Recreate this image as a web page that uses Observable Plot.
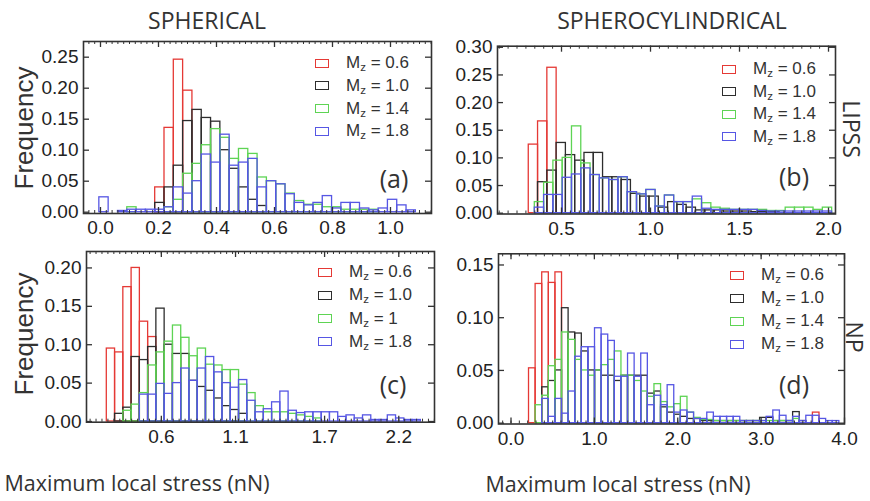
<!DOCTYPE html>
<html>
<head>
<meta charset="utf-8">
<script src="https://cdn.jsdelivr.net/npm/d3@7"></script>
<script src="https://cdn.jsdelivr.net/npm/@observablehq/plot@0.6"></script>
<style>
  html, body { margin: 0; padding: 0; background: #fff; }
  #wrap { position: relative; width: 870px; height: 501px; overflow: hidden; font-family: "Liberation Sans", Arial, sans-serif; color: #222; }
  .panel { position: absolute; }
  .t { position: absolute; white-space: nowrap; line-height: 1; }
  .c { transform: translate(-50%, -50%); }
  .title { font-family: "Open Sans", sans-serif; font-size: 23px; color: #333; }
  .xlab { font-family: "Open Sans", sans-serif; font-size: 21.5px; color: #333; }
  .freq { font-family: "Liberation Sans", Arial, sans-serif; font-size: 26px; color: #333; transform: translate(-50%, -50%) rotate(-90deg); }
  .side { font-family: "Open Sans", sans-serif; font-size: 23px; color: #333; transform: translate(-50%, -50%) rotate(90deg); }
  .letter { font-family: "Open Sans", sans-serif; font-size: 25px; color: #333; }
  .leg { position: absolute; font-family: "Liberation Sans", Arial, sans-serif; font-size: 17px; color: #333; }
  .row { position: absolute; left: 0; height: 20px; display: flex; align-items: center; white-space: nowrap; }
  .sw { display: inline-block; width: 12px; height: 7px; border: 1.5px solid; margin-right: 17px; }
  .row sub { font-size: 11.5px; vertical-align: -3px; }
</style>
</head>
<body>
<div id="wrap"></div>
<script>
// ---------------- data ----------------
const seriesColors = ["#e53935", "#2d2d2d", "#5ed454", "#5656e4"];
const legendA = ["0.6", "1.0", "1.4", "1.8"];
const legendB = ["0.6", "1.0", "1.4", "1.8"];
const legendC = ["0.6", "1.0", "1", "1.8"];
const legendD = ["0.6", "1.0", "1.4", "1.8"];

// (a) SPHERICAL / LIPSS
const aXTicks = [0, 0.2, 0.4, 0.6, 0.8, 1.0];
const aYTicks = [0, 0.05, 0.10, 0.15, 0.20, 0.25];
const aBinWidth = 0.0321;
const aRedStart = 0.1886;
const aRed = [0.040, 0.136, 0.246, 0.196];
const aBlackStart = 0.1886;
const aBlack = [0.015, 0.040, 0.075, 0.147, 0.165, 0.152, 0.146, 0.100, 0.070, 0.040, 0.020, 0.010];
const aGreenStart = 0.0923;
const aGreen = [0.008, 0, 0, 0, 0.008, 0.020, 0.062, 0.078, 0.108, 0.134, 0.120, 0.086, 0.102, 0.094, 0.056, 0.050, 0.045, 0.030, 0.018, 0.012, 0.012, 0.008, 0.008, 0.004, 0.004, 0.004, 0.004];
const aBlueStart = -0.004;
const aBlue = [0.024, 0, 0.002, 0.004, 0.004, 0.004, 0.004, 0.008, 0.040, 0.030, 0.050, 0.093, 0.080, 0.125, 0.075, 0.080, 0.086, 0.040, 0.050, 0.045, 0.029, 0.015, 0.011, 0.015, 0.026, 0.006, 0.015, 0.015, 0.006, 0.003, 0.006, 0.020, 0.011, 0.003];

// (b) SPHEROCYLINDRICAL / LIPSS
const bXTicks = [0.5, 1.0, 1.5, 2.0];
const bYTicks = [0, 0.05, 0.10, 0.15, 0.20, 0.25, 0.30];
const bBinWidth = 0.0522;
const bRedStart = 0.316;
const bRed = [0.124, 0.166, 0.263];
const bBlackStart = 0.368;
const bBlack = [0.056, 0.077, 0.127, 0.105, 0.095, 0.109, 0.109, 0.065, 0.065, 0.060, 0.035, 0.030, 0.030, 0.010, 0.020, 0.015, 0.010, 0.005, 0.005, 0.005, 0.003, 0.003, 0.003, 0.002, 0.002, 0.002];
const bGreenStart = 0.350;
const bGreen = [0.020, 0.055, 0.095, 0.100, 0.157, 0.090, 0.069, 0.063, 0.060, 0.065, 0.038, 0.034, 0.042, 0.012, 0.032, 0.020, 0.020, 0.025, 0.018, 0.010, 0.008, 0.006, 0.006, 0.006, 0.006, 0.004, 0.004, 0.010, 0.010, 0.010, 0.006, 0.010];
const bBlueStart = 0.350;
const bBlue = [0.010, 0.033, 0.033, 0.064, 0.070, 0.081, 0.069, 0.063, 0.060, 0.065, 0.038, 0.034, 0.042, 0.012, 0.032, 0.020, 0.020, 0.030, 0.008, 0.006, 0.006, 0.006, 0.006, 0.006, 0.004, 0.003, 0.003, 0.003, 0.003, 0.003, 0.003, 0.003];

// (c) SPHERICAL / NP
const cXTicks = [0.6, 1.1, 1.7, 2.2];
const cYTicks = [0, 0.05, 0.10, 0.15, 0.20];
const cBinWidth = 0.0557;
const cRedStart = 0.2325;
const cRed = [0.095, 0.090, 0.175, 0.200, 0.130, 0.110];
const cBlackStart = 0.288;
const cBlack = [0.010, 0.018, 0.084, 0.080, 0.097, 0.147, 0.100, 0.088, 0.088, 0.053, 0.045, 0.040, 0.030, 0.020, 0.015, 0.010];
const cGreenStart = 0.344;
const cGreen = [0.014, 0.022, 0.037, 0.073, 0.090, 0.104, 0.125, 0.109, 0.085, 0.095, 0.074, 0.073, 0.067, 0.067, 0.048, 0.037, 0.020, 0.012, 0.012, 0.012, 0.010, 0.008, 0.006, 0.004];
const cBlueStart = 0.455;
const cBlue = [0.035, 0.035, 0.049, 0.036, 0.050, 0.069, 0.053, 0.069, 0.084, 0.064, 0.050, 0.044, 0.054, 0.027, 0.012, 0.016, 0.025, 0.039, 0.014, 0.011, 0.012, 0.012, 0.012, 0.012, 0.006, 0.008, 0.004, 0.008, 0.002, 0.002, 0.008, 0.004, 0.002, 0.002];

// (d) SPHEROCYLINDRICAL / NP
const dXTicks = [0, 1, 2, 3, 4];
const dYTicks = [0, 0.05, 0.10, 0.15];
const dBinWidth = 0.0792;
const dRedStart = 0.216;
const dRed = [0.052, 0.132, 0.143, 0.133, 0.143];
const dRedTailStart = 3.621;
const dRedTail = [0.010];
const dBlackStart = 0.374;
const dBlack = [0.034, 0.040, 0.050, 0.109, 0.086, 0.085, 0.068, 0.050, 0.050, 0.045, 0.045, 0.040, 0.045, 0.045, 0.045, 0.045, 0.028, 0.030, 0.015, 0.010, 0.008, 0.006, 0.004, 0.004, 0.002, 0.002, 0.002, 0.002, 0.002, 0.002, 0.002, 0.002, 0.002, 0.005, 0.005, 0.002, 0.002, 0.002, 0.0105, 0.002];
const dGreenStart = 0.295;
const dGreen = [0.017, 0.026, 0.054, 0.060, 0.086, 0.079, 0.060, 0.050, 0.045, 0.050, 0.055, 0.060, 0.068, 0.045, 0.045, 0.040, 0.030, 0.025, 0.037, 0.020, 0.015, 0.018, 0.025, 0.010, 0.005, 0.003, 0.003, 0.002, 0.002, 0.002, 0.002, 0.002, 0.002, 0.002, 0.002, 0.002, 0.002, 0.002, 0.002, 0.004];
const dBlueStart = 0.374;
const dBlue = [0.023, 0.006, 0.023, 0.009, 0.030, 0.063, 0.072, 0.072, 0.090, 0.084, 0.078, 0.044, 0.044, 0.066, 0.044, 0.066, 0.017, 0.026, 0.017, 0.036, 0.010, 0.012, 0.010, 0.004, 0.004, 0.010, 0.006, 0.006, 0.006, 0.006, 0.002, 0.002, 0.002, 0.002, 0.006, 0.012, 0.007, 0.002, 0.006, 0.002, 0.007, 0.007, 0.004, 0.002, 0.002];

// ---------------- drawing ----------------
const wrap = document.getElementById("wrap");

function binRows(start, width, values) {
  return values.map((v, i) => ({x1: start + i * width, x2: start + (i + 1) * width, y1: 0, y2: v})).filter(d => d.y2 > 0);
}

function makePanel(cfg) {
  const innerW = cfg.width - cfg.mL - cfg.mR;
  const innerH = cfg.height - cfg.mT - cfg.mB;
  const uy = (cfg.yDom[1] - cfg.yDom[0]) / innerH;
  const ux = (cfg.xDom[1] - cfg.xDom[0]) / innerW;
  const y0 = cfg.yDom[0], yT = cfg.yDom[1];
  const kLo = Math.ceil(cfg.xDom[0] / cfg.minor - 1e-6), kHi = Math.floor(cfg.xDom[1] / cfg.minor + 1e-6);
  const minor = d3.range(kLo, kHi + 1).map(k => k * cfg.minor);
  const marks = [];
  cfg.series.forEach((segs, i) => {
    segs.forEach(([start, vals]) => {
      marks.push(Plot.rect(binRows(start, cfg.bw, vals), {
        x1: "x1", x2: "x2", y1: "y1", y2: "y2",
        fill: "none", stroke: seriesColors[i], strokeWidth: 1.3
      }));
    });
  });
  const tk = {stroke: "#333", strokeWidth: 1};
  marks.push(Plot.ruleX(minor, {x: d => d, y1: y0, y2: y0 + 3 * uy, ...tk}));
  marks.push(Plot.ruleX(minor, {x: d => d, y1: yT, y2: yT - 3 * uy, ...tk}));
  marks.push(Plot.ruleX(cfg.xTicks, {x: d => d, y1: y0, y2: y0 + 6 * uy, ...tk, strokeWidth: 1.3}));
  marks.push(Plot.ruleX(cfg.xTicks, {x: d => d, y1: yT, y2: yT - 6 * uy, ...tk, strokeWidth: 1.3}));
  marks.push(Plot.ruleY(cfg.yTicks, {y: d => d, x1: cfg.xDom[0], x2: cfg.xDom[0] + 6 * ux, ...tk, strokeWidth: 1.3}));
  marks.push(Plot.ruleY(cfg.yTicks, {y: d => d, x1: cfg.xDom[1], x2: cfg.xDom[1] - 6 * ux, ...tk, strokeWidth: 1.3}));
  marks.push(Plot.frame({stroke: "#333", strokeWidth: 1.6}));
  marks.push(Plot.axisX({ticks: cfg.xTicks, tickSize: 0, tickPadding: 7, tickFormat: d3.format(".1f"), label: null, fontSize: 19}));
  marks.push(Plot.axisY({ticks: cfg.yTicks, tickSize: 0, tickPadding: 5, tickFormat: d3.format(".2f"), label: null, fontSize: 19}));
  const svg = Plot.plot({
    width: cfg.width, height: cfg.height,
    marginLeft: cfg.mL, marginRight: cfg.mR, marginTop: cfg.mT, marginBottom: cfg.mB,
    x: {domain: cfg.xDom}, y: {domain: cfg.yDom},
    style: {fontFamily: "'Liberation Sans', Arial, sans-serif", fontSize: "19px", color: "#222", background: "transparent", overflow: "visible"},
    marks
  });
  svg.classList.add("panel");
  svg.style.left = cfg.left + "px";
  svg.style.top = cfg.top + "px";
  wrap.appendChild(svg);

  // legend
  const leg = document.createElement("div");
  leg.className = "leg";
  leg.style.left = cfg.legX + "px";
  leg.style.top = cfg.legY + "px";
  cfg.legend.forEach((lab, i) => {
    const row = document.createElement("div");
    row.className = "row";
    row.style.top = (i * cfg.legStep) + "px";
    row.innerHTML = `<span class="sw" style="border-color:${seriesColors[i]}"></span><span>M<sub>z</sub> = ${lab}</span>`;
    leg.appendChild(row);
  });
  wrap.appendChild(leg);

  const let_ = document.createElement("div");
  let_.className = "t c letter";
  let_.style.left = cfg.letterX + "px";
  let_.style.top = cfg.letterY + "px";
  let_.textContent = cfg.letter;
  wrap.appendChild(let_);
}

makePanel({
  left: 0, top: 30, width: 445, height: 210, mL: 83, mR: 14, mT: 11, mB: 27,
  xDom: [-0.0586, 1.1414], yDom: [-0.0021, 0.2753], minor: 0.02,
  xTicks: aXTicks, yTicks: aYTicks, bw: aBinWidth,
  series: [[[aRedStart, aRed]], [[aBlackStart, aBlack]], [[aGreenStart, aGreen]], [[aBlueStart, aBlue]]],
  legend: legendA, legX: 315, legY: 53, legStep: 22.8, letter: "(a)", letterX: 394, letterY: 178
});
makePanel({
  left: 445, top: 30, width: 425, height: 210, mL: 52, mR: 35, mT: 15.7, mB: 26.5,
  xDom: [0.1404, 2.0393], yDom: [-0.0015, 0.302], minor: 0.05,
  xTicks: bXTicks, yTicks: bYTicks, bw: bBinWidth,
  series: [[[bRedStart, bRed]], [[bBlackStart, bBlack]], [[bGreenStart, bGreen]], [[bBlueStart, bBlue]]],
  legend: legendB, legX: 722, legY: 59, legStep: 22.5, letter: "(b)", letterX: 794, letterY: 176
});
makePanel({
  left: 0, top: 240, width: 445, height: 210, mL: 86, mR: 11, mT: 11, mB: 28.3,
  xDom: [0.0957, 2.4407], yDom: [-0.0009, 0.2214], minor: 0.04,
  xTicks: cXTicks, yTicks: cYTicks, bw: cBinWidth,
  series: [[[cRedStart, cRed]], [[cBlackStart, cBlack]], [[cGreenStart, cGreen]], [[cBlueStart, cBlue]]],
  legend: legendC, legX: 318, legY: 262, legStep: 23.3, letter: "(c)", letterX: 393, letterY: 384
});
makePanel({
  left: 445, top: 240, width: 425, height: 210, mL: 53, mR: 26, mT: 13.3, mB: 26.5,
  xDom: [-0.15, 4.0], yDom: [-0.0008, 0.1606], minor: 0.1,
  xTicks: dXTicks, yTicks: dYTicks, bw: dBinWidth,
  series: [[[dRedStart, dRed], [dRedTailStart, dRedTail]], [[dBlackStart, dBlack]], [[dGreenStart, dGreen]], [[dBlueStart, dBlue]]],
  legend: legendD, legX: 730, legY: 265, legStep: 23, letter: "(d)", letterX: 794, letterY: 384
});

// outer labels
function addText(txt, cls, x, y) {
  const el = document.createElement("div");
  el.className = "t " + cls;
  el.style.left = x + "px";
  el.style.top = y + "px";
  el.textContent = txt;
  wrap.appendChild(el);
}
addText("SPHERICAL", "c title", 207, 20);
addText("SPHEROCYLINDRICAL", "c title", 672, 20);
addText("Frequency", "freq", 24, 128);
addText("Frequency", "freq", 24, 334);
addText("LIPSS", "side", 851, 129);
addText("NP", "side", 854, 337);
addText("Maximum local stress (nN)", "c xlab", 137, 483);
addText("Maximum local stress (nN)", "c xlab", 618, 484);
</script>
</body>
</html>
